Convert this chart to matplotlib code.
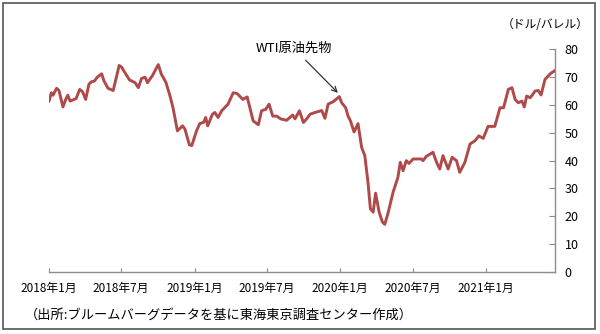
import pandas as pd
import numpy as np
import matplotlib
matplotlib.use("Agg")
import matplotlib.pyplot as plt
from matplotlib.patches import Rectangle

plt.rcParams["font.family"] = ["Noto Sans CJK JP", "DejaVu Sans"]

# WTI crude futures, USD/bbl
dates = [
    "2018-01-01", "2018-01-07", "2018-01-11", "2018-01-20", "2018-01-26", "2018-02-05",
    "2018-02-12", "2018-02-17", "2018-02-23", "2018-03-10", "2018-03-19", "2018-03-26",
    "2018-04-03", "2018-04-11", "2018-04-17", "2018-04-25", "2018-05-02", "2018-05-13",
    "2018-05-19", "2018-05-29", "2018-06-11", "2018-06-26", "2018-07-02", "2018-07-13",
    "2018-07-22", "2018-08-05", "2018-08-13", "2018-08-21", "2018-08-30", "2018-09-05",
    "2018-09-18", "2018-10-02", "2018-10-10", "2018-10-21", "2018-10-31", "2018-11-08",
    "2018-11-19", "2018-12-02", "2018-12-08", "2018-12-19", "2018-12-25", "2019-01-06",
    "2019-01-14", "2019-01-24", "2019-01-29", "2019-02-03", "2019-02-15", "2019-02-21",
    "2019-03-01", "2019-03-10", "2019-03-26", "2019-04-08", "2019-04-18", "2019-05-02",
    "2019-05-13", "2019-05-28", "2019-06-10", "2019-06-18", "2019-06-29", "2019-07-07",
    "2019-07-16", "2019-07-26", "2019-08-05", "2019-08-20", "2019-09-04", "2019-09-10",
    "2019-09-21", "2019-10-01", "2019-10-09", "2019-10-18", "2019-10-30", "2019-11-16",
    "2019-11-24", "2019-12-02", "2019-12-15", "2019-12-30", "2020-01-05", "2020-01-15",
    "2020-01-21", "2020-01-27", "2020-02-05", "2020-02-15", "2020-02-24", "2020-03-03",
    "2020-03-11", "2020-03-17", "2020-03-24", "2020-03-30", "2020-04-08", "2020-04-16",
    "2020-04-22", "2020-04-30", "2020-05-13", "2020-05-25", "2020-05-31", "2020-06-07",
    "2020-06-15", "2020-06-22", "2020-07-02", "2020-07-14", "2020-07-23", "2020-07-27",
    "2020-08-04", "2020-08-21", "2020-08-30", "2020-09-07", "2020-09-15", "2020-09-28",
    "2020-10-08", "2020-10-19", "2020-10-27", "2020-11-09", "2020-11-22", "2020-12-04",
    "2020-12-14", "2020-12-25", "2021-01-06", "2021-01-23", "2021-02-05", "2021-02-14",
    "2021-02-26", "2021-03-07", "2021-03-15", "2021-03-23", "2021-04-01", "2021-04-07",
    "2021-04-13", "2021-04-22", "2021-05-04", "2021-05-12", "2021-05-19", "2021-05-29",
    "2021-06-11", "2021-06-23",
]
wti = [
    61.4, 64.4, 63.5, 66.0, 65.2, 59.3,
    62.0, 63.5, 61.4, 62.3, 65.6, 64.8,
    62.0, 67.4, 68.3, 68.6, 70.0, 71.2,
    68.6, 66.0, 65.2, 74.2, 73.6, 71.0,
    69.0, 68.0, 66.2, 69.5, 70.0, 68.0,
    70.7, 74.5, 71.0, 68.2, 63.5, 59.0,
    50.7, 52.5, 51.3, 45.7, 45.4, 50.7,
    53.3, 53.8, 55.5, 52.5, 56.7, 57.3,
    55.5, 57.9, 60.3, 64.4, 64.1, 62.0,
    62.9, 54.3, 52.9, 57.9, 58.5, 60.3,
    56.0, 56.0, 55.0, 54.5, 56.4, 55.0,
    57.9, 53.7, 55.0, 56.7, 57.3, 58.0,
    55.2, 60.3, 61.2, 63.0, 60.8, 59.0,
    56.0, 54.3, 50.3, 53.3, 44.8, 41.8,
    32.2, 22.7, 21.5, 28.3, 21.5, 18.0,
    17.1, 21.0, 28.7, 34.0, 39.4, 36.4,
    40.0, 39.0, 40.6, 40.6, 40.6, 40.0,
    41.5, 43.0, 39.4, 37.0, 41.8, 37.0,
    41.2, 40.0, 35.8, 39.4, 46.0, 47.1,
    48.9, 48.0, 52.3, 52.3, 59.0, 59.0,
    65.6, 66.2, 62.0, 60.8, 61.4, 59.3,
    63.2, 62.6, 65.0, 65.2, 63.6, 69.2,
    71.2, 72.4,
]

tick_dates = ["2018-01-01", "2018-07-01", "2019-01-01", "2019-07-01",
              "2020-01-01", "2020-07-01", "2021-01-01"]
tick_labels = ["2018年1月", "2018年7月", "2019年1月", "2019年7月",
               "2020年1月", "2020年7月", "2021年1月"]
y_ticks = [0, 10, 20, 30, 40, 50, 60, 70, 80]

df = pd.DataFrame({"date": pd.to_datetime(dates), "wti": wti})

W, H = 600, 334
fig = plt.figure(figsize=(W / 100, H / 100), dpi=100)
ax = fig.add_axes([49 / W, 1 - 272 / H, (555 - 49) / W, (272 - 49.3) / H])

ax.plot(df["date"], df["wti"], color="#b0494a", linewidth=2.1,
        solid_joinstyle="round")

ax.set_xlim(pd.Timestamp("2018-01-01"), pd.Timestamp("2021-06-23"))
ax.set_ylim(0, 80)
ax.set_xticks(pd.to_datetime(tick_dates))
ax.set_xticklabels(tick_labels, fontsize=8.5)
ax.set_yticks(y_ticks)

ax.yaxis.tick_right()
ax.spines["left"].set_visible(False)
ax.spines["top"].set_visible(False)
for s in ("bottom", "right"):
    ax.spines[s].set_color("#8c8c8c")
    ax.spines[s].set_linewidth(1.0)
ax.tick_params(axis="x", direction="in", length=3, color="#8c8c8c",
               pad=7, labelsize=8.5)
ax.tick_params(axis="y", direction="in", length=4, color="#8c8c8c",
               pad=7, labelsize=9)

fig.text(589 / W, 1 - 24 / H, "（ドル/バレル）", ha="right", va="center", fontsize=8.5)

ax.annotate("WTI原油先物", xy=(pd.Timestamp("2019-12-29"), 64),
            xytext=(pd.Timestamp("2019-09-06"), 80.5),
            ha="center", va="center", fontsize=9.5,
            arrowprops=dict(arrowstyle="->", color="#333333", lw=0.9,
                            shrinkA=3, shrinkB=1))

fig.text(25 / W, 1 - 315 / H, "（出所:ブルームバーグデータを基に東海東京調査センター作成）",
         ha="left", va="center", fontsize=9.5)

# outer frame
fig.patches.append(Rectangle((3 / W, 1 - 329 / H), 592 / W, 326 / H,
                             transform=fig.transFigure, fill=False,
                             edgecolor="#555555", linewidth=1.2))

fig.savefig("out.png", dpi=100)
